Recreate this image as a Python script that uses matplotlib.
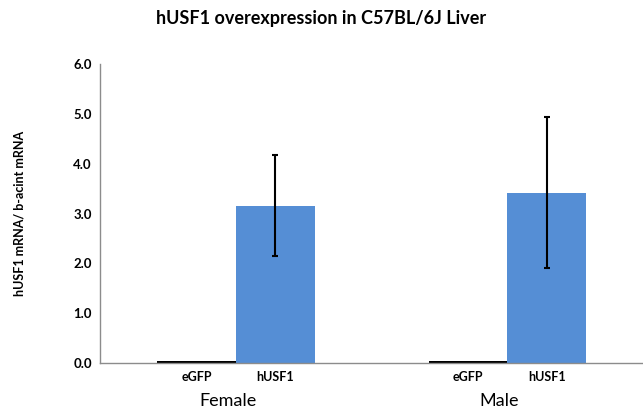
import matplotlib.pyplot as plt
import numpy as np

plt.rcParams["font.family"] = ["Lato", "DejaVu Sans"]

groups = ["Female", "Male"]
treatments = ["eGFP", "hUSF1"]
values = {"eGFP": [0.04, 0.04], "hUSF1": [3.16, 3.42]}
errors = {"eGFP": [0.0, 0.0], "hUSF1": [1.01, 1.52]}
colors = {"eGFP": "#000000", "hUSF1": "#558ed5"}
yticks = [0.0, 1.0, 2.0, 3.0, 4.0, 5.0, 6.0]

fig = plt.figure(figsize=(6.43, 4.13), dpi=100)
ax = fig.add_axes([0.156, 0.121, 0.844, 0.724])

x = np.arange(len(groups))
width = 0.29
tick_pos, tick_lab = [], []
for i, t in enumerate(treatments):
    pos = x + (i - 0.5) * width
    err = errors[t] if any(errors[t]) else None
    ax.bar(pos, values[t], width, color=colors[t],
           yerr=err, capsize=2.5,
           error_kw=dict(ecolor="black", elinewidth=1.5, capthick=1.5))
    tick_pos.extend(pos)
    tick_lab.extend([t] * len(groups))

ax.set_xlim(-0.5, len(groups) - 0.5)
ax.set_ylim(0, 6)
ax.set_yticks(yticks)
ax.set_yticklabels([f"{v:.1f}" for v in yticks], fontsize=9.5, fontweight="bold")
ax.set_xticks(tick_pos)
ax.set_xticklabels(tick_lab, fontsize=9, fontweight="bold")
ax.tick_params(length=0, pad=6)

for gi, g in enumerate(groups):
    ax.text(gi - 0.03, -0.1, g, transform=ax.get_xaxis_transform(),
            ha="center", va="top", fontsize=13)

for s in ["top", "right"]:
    ax.spines[s].set_visible(False)
for s in ["left", "bottom"]:
    ax.spines[s].set_color("#8c8c8c")
    ax.spines[s].set_linewidth(1)

ax.set_ylabel("hUSF1 mRNA/ b-acint mRNA", fontsize=9, fontweight="bold")
ax.yaxis.set_label_coords(-0.138, 0.5)
fig.suptitle("hUSF1 overexpression in C57BL/6J Liver", fontsize=13,
             fontweight="bold", x=0.5, y=0.975)

fig.savefig("out.png", dpi=100, facecolor="white")
